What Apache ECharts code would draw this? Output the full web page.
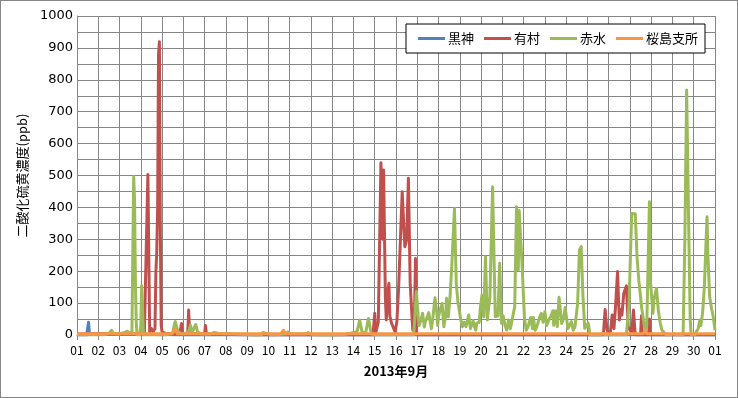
<!DOCTYPE html>
<html lang="ja">
<head>
<meta charset="UTF-8">
<title>二酸化硫黄濃度 2013年9月</title>
<script src="https://cdn.jsdelivr.net/npm/echarts@6/dist/echarts.min.js"></script>
<style>
  html, body { margin: 0; padding: 0; background: #fff; }
  #main {
    width: 738px; height: 398px;
    box-sizing: border-box;
    border: 1px solid #868686;
  }
</style>
</head>
<body>
<div id="main"></div>
<script>
// hours since 2013-09-01 00:00, value in ppb
const seriesNames = ['黒神', '有村', '赤水', '桜島支所'];
const seriesColors = ['#4F81BD', '#C0504D', '#9BBB59', '#F79646'];

const kurokami = [[0,0],[11,0],[12,5],[13,40],[14,5],[15,0],[120,0],[122,4],[124,0],[720,0]];

const arimura = [[0,3],[40,3],[60,5],[76,3],[78,5],[80,503],[82,10],[84,20],[86,10],[88,20],[89,195],
  [90,260],[91,400],[92,880],[93,919],[94,350],[95,30],[96,10],[100,5],[110,5],[116,5],[118,36],[119,5],
  [125,5],[126,78],[127,10],[130,5],[144,5],[145,30],[146,5],[150,3],[200,0],[334,0],[336,68],[337,5],
  [340,40],[343,540],[345,300],[346,517],[348,120],[349,47],[351,140],[352,162],[353,60],[355,37],[357,40],
  [359,10],[361,42],[363,150],[365,300],[367,449],[369,330],[370,277],[372,298],[374,491],[376,162],[378,60],
  [379,15],[381,80],[382,240],[383,10],[384,0],[594,0],[596,80],[598,20],[600,0],[602,10],[604,63],[606,20],
  [608,100],[610,199],[612,47],[614,80],[615,63],[617,130],[618,136],[620,154],[622,26],[626,5],[628,78],
  [630,0],[636,0],[637,60],[638,0],[645,0],[646,50],[647,0],[720,0]];

const akamizu = [[0,0],[30,0],[36,5],[39,15],[41,5],[48,3],[54,8],[57,12],[59,5],[61,8],[62,10],[63,266],
  [64,496],[65,420],[66,150],[67,30],[68,0],[71,0],[72,30],[73,155],[74,80],[75,0],[100,0],[108,5],[110,35],
  [111,42],[112,30],[114,10],[117,5],[120,3],[126,10],[128,31],[130,8],[132,12],[134,33],[136,10],[140,3],
  [150,3],[155,8],[160,5],[180,3],[200,0],[208,0],[210,8],[214,5],[220,0],[235,3],[238,10],[241,3],[258,3],
  [261,8],[264,3],[270,0],[300,0],[316,10],[319,47],[322,5],[326,10],[329,52],[332,5],[335,0],[380,0],
  [383,136],[385,60],[386,30],[388,45],[390,68],[392,25],[393,40],[395,37],[397,70],[398,52],[400,20],
  [401,40],[403,90],[404,117],[406,70],[407,30],[408,57],[410,80],[412,99],[414,26],[416,60],[417,115],
  [419,57],[421,120],[423,219],[426,397],[428,162],[430,100],[432,94],[433,50],[435,26],[437,40],[439,26],
  [441,50],[442,63],[444,20],[445,26],[447,45],[448,30],[450,15],[451,37],[454,40],[455,80],[457,125],
  [459,57],[461,245],[463,47],[466,120],[469,465],[472,57],[475,60],[477,225],[479,37],[481,60],[483,30],
  [485,15],[487,47],[489,20],[491,26],[494,89],[496,402],[498,204],[499,390],[501,390],[502,235],[505,52],
  [507,15],[509,26],[512,55],[514,20],[515,55],[517,15],[519,26],[521,30],[522,55],[524,68],[526,40],[528,73],
  [530,30],[532,26],[533,50],[535,60],[537,76],[538,30],[540,76],[542,26],[544,118],[547,36],[549,50],
  [551,86],[554,20],[556,30],[558,42],[560,15],[562,26],[565,100],[567,266],[569,277],[571,120],[573,21],
  [575,25],[577,37],[579,0],[590,0],[593,5],[596,0],[620,0],[623,100],[626,381],[628,380],[630,380],
  [632,245],[634,172],[636,120],[637,89],[641,16],[643,30],[646,418],[647,172],[650,68],[651,110],[654,146],
  [656,78],[658,40],[660,16],[665,0],[670,0],[673,5],[676,0],[684,0],[686,300],[688,768],[690,400],[692,50],
  [693,0],[697,0],[699,10],[701,20],[703,47],[704,30],[706,68],[708,152],[710,300],[711,371],[712,250],
  [714,120],[716,84],[718,57],[720,15]];

const sakurajima = [[0,4],[60,4],[107,4],[109,10],[111,18],[113,4],[230,4],[233,15],[235,4],[300,4],
  [302,8],[304,4],[398,4],[400,10],[402,4],[639,4],[641,15],[643,4],[720,4]];

const allData = [kurokami, arimura, akamizu, sakurajima];

const chart = echarts.init(document.getElementById('main'));
const gridColor = '#868686';

chart.setOption({
  animation: false,
  grid: { left: 76, right: 22, top: 15, bottom: 62 },
  legend: {
    left: 405, top: 23,
    itemWidth: 27, itemHeight: 3, itemGap: 10,
    icon: 'rect',
    padding: [8, 7, 8, 12],
    borderColor: '#000', borderWidth: 1,
    backgroundColor: '#fff',
    textStyle: { fontFamily: 'Noto Sans CJK JP', fontSize: 13, color: '#000', padding: [0, 0, 0, -2] },
    data: seriesNames
  },
  xAxis: {
    type: 'value', min: 0, max: 720, interval: 24,
    name: '2013年9月', nameLocation: 'middle', nameGap: 30,
    nameTextStyle: { fontFamily: 'Noto Sans CJK JP', fontSize: 13, fontWeight: 'bold', color: '#000' },
    axisLine: { lineStyle: { color: gridColor } },
    axisTick: { show: true, length: 5, lineStyle: { color: gridColor } },
    axisLabel: {
      margin: 9, fontFamily: 'Noto Sans CJK JP', fontSize: 12, color: '#000',
      formatter: v => {
        const d = v / 24 + 1;
        return String(d > 30 ? 1 : d).padStart(2, '0');
      }
    },
    splitLine: { show: true, lineStyle: { color: gridColor, width: 1 } }
  },
  yAxis: {
    type: 'value', min: 0, max: 1000, interval: 50,
    name: '二酸化硫黄濃度(ppb)', nameLocation: 'middle', nameGap: 40,
    nameTextStyle: { fontFamily: 'Noto Sans CJK JP', fontSize: 13, color: '#000' },
    axisLine: { show: true, lineStyle: { color: gridColor } },
    axisTick: { show: false },
    axisLabel: {
      margin: 4, fontFamily: 'DejaVu Sans', fontSize: 13, color: '#000',
      formatter: v => (v % 100 === 0 ? String(v) : '')
    },
    splitLine: { show: true, lineStyle: { color: gridColor, width: 1 } }
  },
  series: seriesNames.map((name, i) => ({
    name,
    type: 'line',
    data: allData[i],
    showSymbol: false,
    symbol: 'none',
    color: seriesColors[i],
    lineStyle: { width: 3, color: seriesColors[i], join: 'round' }
  }))
});
</script>
</body>
</html>
